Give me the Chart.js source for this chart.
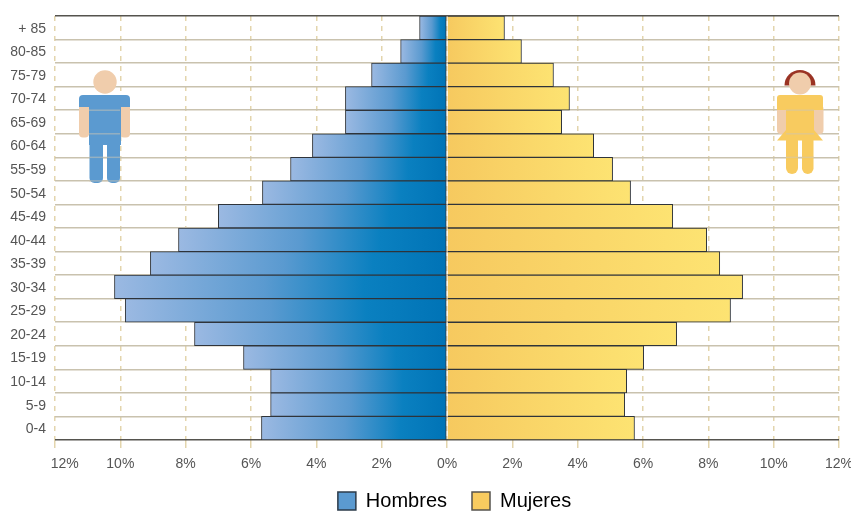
<!DOCTYPE html>
<html>
<head>
<meta charset="utf-8">
<title>Pirámide de población</title>
<script src="https://cdn.jsdelivr.net/npm/chart.js@4.4.0/dist/chart.umd.min.js"></script>
<style>
    html, body { margin: 0; padding: 0; background: #fff; }
    #wrap { width: 851px; height: 513px; }
</style>
</head>
<body>
<div id="wrap"><canvas id="pyramid" width="851" height="513"></canvas></div>
<script>
// Age groups, top of the pyramid first
const ageGroups = ['+ 85', '80-85', '75-79', '70-74', '65-69', '60-64', '55-59', '50-54', '45-49',
    '40-44', '35-39', '30-34', '25-29', '20-24', '15-19', '10-14', '5-9', '0-4'];
const hombres = [0.84, 1.42, 2.31, 3.11, 3.11, 4.12, 4.79, 5.65, 7.0,
    8.22, 9.08, 10.18, 9.85, 7.73, 6.23, 5.4, 5.4, 5.68];
const mujeres = [1.76, 2.28, 3.26, 3.75, 3.51, 4.49, 5.07, 5.62, 6.91,
    7.95, 8.35, 9.05, 8.68, 7.03, 6.02, 5.5, 5.44, 5.74];
const xTicks = [-12, -10, -8, -6, -4, -2, 0, 2, 4, 6, 8, 10, 12];

const FONT = '"Liberation Sans", Arial, sans-serif';
const TEXT = '#555';
const DARK_LINE = '#55534e';
const TAN_LINE = '#c9c2ae';
const DASH_LINE = '#e3d5ad';
const BLUE = '#5b9ad0';
const YELLOW = '#f8cb5f';
const SKIN = '#f0cdac';

// Every bar has its own gradient, running from the centre line to the bar's end
function barGradient(ctx, stops) {
    const { chart, raw } = ctx;
    if (!chart.chartArea || !chart.scales.x || raw === undefined) return stops[0][1];
    const x0 = chart.scales.x.getPixelForValue(0);
    const x1 = chart.scales.x.getPixelForValue(raw);
    const g = chart.ctx.createLinearGradient(x0, 0, x1, 0);
    stops.forEach(s => g.addColorStop(s[0], s[1]));
    return g;
}

function pill(c, x, y, w, h, r) {
    c.beginPath();
    c.roundRect(x, y, w, h, r);
    c.fill();
}

function drawMan(c) {
    c.fillStyle = SKIN;
    c.beginPath();
    c.arc(105, 82, 11.7, 0, Math.PI * 2);
    c.fill();
    pill(c, 79, 100, 10, 37.5, 4);
    pill(c, 120, 100, 10, 37.5, 4);
    c.fillStyle = BLUE;
    pill(c, 79, 95, 51, 12, [4, 4, 0, 0]);
    c.fillRect(89, 95, 32, 50);
    pill(c, 89.5, 130, 13.5, 53, 5);
    pill(c, 107, 130, 13, 53, 5);
}

function drawWoman(c) {
    c.fillStyle = '#9a3324';
    c.beginPath();
    c.arc(800, 85.5, 15.5, Math.PI, 0);
    c.fill();
    c.fillStyle = SKIN;
    c.beginPath();
    c.arc(800, 83.5, 11, 0, Math.PI * 2);
    c.fill();
    pill(c, 777, 105, 9.5, 29, 4);
    pill(c, 814, 105, 9.5, 29, 4);
    c.fillStyle = YELLOW;
    pill(c, 777, 95, 46, 15, [3, 3, 0, 0]);
    c.fillRect(786, 95, 28, 40);
    c.beginPath();
    c.moveTo(786, 130);
    c.lineTo(777, 140.5);
    c.lineTo(823, 140.5);
    c.lineTo(814, 130);
    c.fill();
    pill(c, 786, 135, 12, 39, 6);
    pill(c, 802, 135, 11.5, 39, 6);
}

// The figures cover the dashed lines, but the row lines still show faintly across them
const figures = {
    id: 'figures',
    beforeDatasetsDraw(chart) {
        const c = chart.ctx;
        const y = chart.scales.y;
        c.save();
        drawMan(c);
        drawWoman(c);
        c.strokeStyle = 'rgba(207, 200, 180, 0.5)';
        c.lineWidth = 1.5;
        ageGroups.forEach((_, i) => {
            const py = y.getPixelForValue(i) - y.height / ageGroups.length / 2;
            if (py < 95 || py > 183) return;
            [[89, 120], [786, 814]].forEach(r => {
                if (r[0] > 700 && py > 174) return;
                c.beginPath();
                c.moveTo(r[0], py);
                c.lineTo(r[1], py);
                c.stroke();
            });
        });
        c.restore();
    }
};

// The legend is centred under the right part of the page
const legendPlace = {
    id: 'legendPlace',
    afterLayout(chart) {
        chart.legend.left += 35;
        chart.legend.right += 35;
        chart.legend.top = 466;
    }
};

new Chart(document.getElementById('pyramid'), {
    type: 'bar',
    data: {
        labels: ageGroups,
        datasets: [{
            label: 'Hombres',
            data: hombres.map(v => -v),
            borderSkipped: false,
            backgroundColor: ctx => barGradient(ctx, [[0, '#0073b6'], [0.25, '#0a80c0'], [0.55, '#5a9ad0'], [1, '#9bb9e2']])
        }, {
            label: 'Mujeres',
            data: mujeres,
            // the male bars already draw the centre line
            borderSkipped: 'left',
            backgroundColor: ctx => barGradient(ctx, [[0, '#f6c95f'], [1, '#fde372']])
        }]
    },
    options: {
        indexAxis: 'y',
        responsive: false,
        animation: false,
        barPercentage: 1,
        categoryPercentage: 1,
        borderColor: '#2f343a',
        borderWidth: 1,
        layout: { autoPadding: false, padding: { top: 16, right: 12, left: 0, bottom: 0 } },
        plugins: {
            tooltip: { enabled: false },
            legend: {
                position: 'bottom',
                maxHeight: 30,
                labels: {
                    boxWidth: 18,
                    boxHeight: 18,
                    padding: 25,
                    color: '#333',
                    font: { family: FONT, size: 20 },
                    generateLabels: () => [
                        { text: 'Hombres', fillStyle: BLUE, strokeStyle: '#2d3b4a', lineWidth: 1.5, datasetIndex: 0 },
                        { text: 'Mujeres', fillStyle: YELLOW, strokeStyle: '#55534e', lineWidth: 1.5, datasetIndex: 1 }
                    ]
                }
            }
        },
        scales: {
            x: {
                type: 'linear',
                stacked: true,
                min: -12,
                max: 12,
                afterFit: s => { s.height = 43; s.paddingLeft = 0; s.paddingRight = 0; },
                afterBuildTicks: s => { s.ticks = xTicks.map(value => ({ value })); },
                border: { display: false, dash: [5, 5] },
                grid: { color: DASH_LINE, lineWidth: 1.5, tickLength: 8, tickColor: DASH_LINE },
                ticks: {
                    autoSkip: false,
                    maxRotation: 0,
                    padding: 8,
                    color: TEXT,
                    font: { family: FONT, size: 14 },
                    // the leftmost label starts at the axis end instead of being centred on it
                    callback: v => (v === -12 ? '     ' : '') + Math.abs(v) + '%'
                }
            },
            y: {
                stacked: true,
                afterFit: s => { s.width = 55; s.paddingTop = 0; s.paddingBottom = 0; },
                border: { display: false },
                grid: {
                    offset: true,
                    drawTicks: false,
                    tickLength: 0,
                    lineWidth: 1.5,
                    color: ctx => (!ctx.tick || ctx.index === 0) ? DARK_LINE : TAN_LINE
                },
                ticks: {
                    autoSkip: false,
                    padding: 9,
                    labelOffset: 1,
                    color: TEXT,
                    font: { family: FONT, size: 14 }
                }
            }
        }
    },
    plugins: [figures, legendPlace]
});
</script>
</body>
</html>
